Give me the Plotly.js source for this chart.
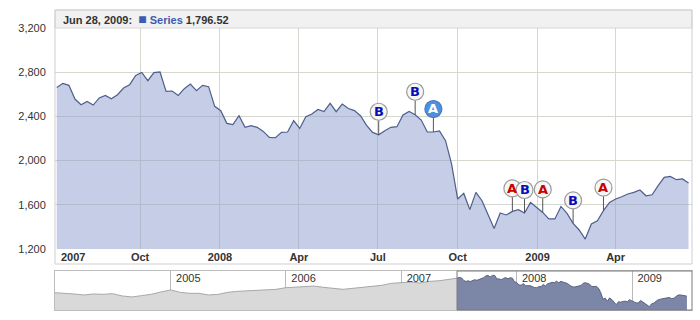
<!DOCTYPE html>
<html>
<head>
<meta charset="utf-8">
<script src="https://cdn.plot.ly/plotly-3.0.1.min.js"></script>
<style>html,body{margin:0;padding:0;background:#fff;}#chart{width:700px;height:320px;}</style>
</head>
<body>
<div id="chart"></div>
<script>
// ---- data ----
const seriesName = 'Series';
const hoverDate = 'Jun 28, 2009';
const firstWeek = '2007-06-27';   // weekly observations start
const weeklyValues = [
  2662,2699,2681,2557,2506,2536,2503,2567,2590,2560,
  2596,2657,2687,2771,2798,2723,2796,2802,2626,2630,
  2590,2651,2693,2633,2681,2669,2491,2452,2337,2325,
  2406,2301,2316,2301,2264,2210,2207,2255,2259,2361,
  2291,2397,2422,2463,2443,2518,2443,2512,2472,2452,
  2406,2319,2255,2234,2271,2301,2307,2413,2445,2415,
  2367,2259,2259,2268,2180,1969,1652,1703,1556,1712,
  1637,1510,1386,1526,1508,1540,1556,1526,1622,1576,
  1531,1472,1472,1585,1522,1432,1372,1290,1426,1456,
  1547,1622,1652,1673,1698,1712,1734,1682,1691,1773,
  1848,1857,1827,1834,1796.52
];
// monthly history shown only in the navigator (Jan 2004 .. Jun 2007)
const historyStartYear = 2004;
const historyValues = [
  1965,1950,1902,1854,1902,1886,1918,1806,1758,1822,1886,1998,
  2094,1982,1934,1934,1854,1886,1982,2030,2046,2078,2078,2126,
  2206,2238,2286,2286,2222,2158,2126,2174,2222,2270,2320,2416,
  2445,2478,2430,2510,2540,2600
];
// event flags: week index, letter, highlighted
const eventWeeks   = [53, 59, 62, 75, 77, 80, 85, 90];
const eventLetters = ['B','B','A','A','B','A','B','A'];
const eventActive  = [false,false,true,false,false,false,false,false];
// axis ticks
const mainTickVals = ['2007-10-01','2008-01-01','2008-04-01','2008-07-01','2008-10-01','2009-01-01','2009-04-01'];
const mainTickText = ['Oct','2008','Apr','Jul','Oct','2009','Apr'];
const firstYearLabel = '2007';
const yTickVals = [1200,1600,2000,2400,2800,3200];
const navTickVals = ['2005-01-01','2006-01-01','2007-01-01','2008-01-01','2009-01-01'];
const navTickText = ['2005','2006','2007','2008','2009'];

// ---- derived ----
function isoDay(d){ return d.toISOString().slice(0,10); }
const weekDates = weeklyValues.map((v,i)=>{
  const d = new Date(firstWeek + 'T00:00:00Z');
  d.setUTCDate(d.getUTCDate() + 7*i);
  return isoDay(d);
});
const historyDates = historyValues.map((v,i)=>{
  const d = new Date(Date.UTC(historyStartYear, i, 1));
  return isoDay(d);
});

const FONT = 'Liberation Sans, Arial, sans-serif';
const H = 320;
const py = p => (H - p) / H;   // pixel row -> paper y

const traces = [
  {
    x: weekDates, y: weeklyValues, type: 'scatter', mode: 'lines',
    line: {color: '#4e5e8c', width: 1.2},
    fill: 'tozeroy', fillcolor: 'rgba(139,157,205,0.5)',
    xaxis: 'x', yaxis: 'y', hoverinfo: 'skip'
  },
  {
    x: historyDates.concat([weekDates[0]]), y: historyValues.concat([weeklyValues[0]]),
    type: 'scatter', mode: 'lines',
    line: {color: '#a8a8a8', width: 1},
    fill: 'tozeroy', fillcolor: '#d9d9d9',
    xaxis: 'x2', yaxis: 'y2', hoverinfo: 'skip'
  },
  {
    x: weekDates, y: weeklyValues, type: 'scatter', mode: 'lines',
    line: {color: '#59627e', width: 1},
    fill: 'tozeroy', fillcolor: '#7c87a8',
    xaxis: 'x2', yaxis: 'y2', hoverinfo: 'skip'
  }
];

const shapes = [
  // frame around main chart incl. header and label band
  {type:'rect', xref:'paper', yref:'paper', x0:0, x1:1, y0:py(264), y1:py(10),
   line:{color:'#cfcfcf', width:1}, fillcolor:'rgba(0,0,0,0)', layer:'above'},
  // header bar
  {type:'rect', xref:'paper', yref:'paper', x0:0, x1:1, y0:py(28), y1:py(10),
   line:{color:'#d6d6d6', width:1}, fillcolor:'#f1f1f1', layer:'below'},
  // navigator selection frame
  {type:'rect', xref:'x2', yref:'y2 domain', x0:weekDates[0], x1:'2009-07-10', y0:0, y1:1,
   line:{color:'#7a7a7a', width:1}, fillcolor:'rgba(0,0,0,0)', layer:'above'}
];
const annotations = [
  {xref:'paper', yref:'paper', x:0, xshift:6, y:py(19), xanchor:'left', yanchor:'middle', showarrow:false,
   text:'<b>' + hoverDate + ':</b>  <span style="color:#3d5bb0;font-size:14px">■</span> <b><span style="color:#3d5bb0">' + seriesName + '</span> ' +
        weeklyValues[weeklyValues.length-1].toLocaleString('en-US',{minimumFractionDigits:2}) + '</b>',
   font:{family:FONT, size:11, color:'#333'}},
  {xref:'paper', yref:'paper', x:0, xshift:4, y:py(257), xanchor:'left', yanchor:'middle', showarrow:false,
   text:'<b>' + firstYearLabel + '</b>', font:{family:FONT, size:11, color:'#333'}}
];

eventWeeks.forEach((w,i)=>{
  const xd = weekDates[w], yv = weeklyValues[w];
  const act = eventActive[i];
  shapes.push({type:'line', xref:'x', yref:'y', xsizemode:'pixel', ysizemode:'pixel',
    xanchor:xd, yanchor:yv, x0:0, x1:0, y0:0, y1:14.5, line:{color:'#555', width:1}});
  shapes.push({type:'circle', xref:'x', yref:'y', xsizemode:'pixel', ysizemode:'pixel',
    xanchor:xd, yanchor:yv, x0:-8.5, x1:8.5, y0:14.5, y1:31.5,
    fillcolor: act ? '#4d8fe0' : '#f6f6f6', line:{color: act ? '#4a78c0' : '#9a9a9a', width:1.2}});
  annotations.push({xref:'x', yref:'y', x:xd, y:yv, yshift:23, showarrow:false,
    xanchor:'center', yanchor:'middle',
    text:'<b>' + eventLetters[i] + '</b>',
    font:{family:'DejaVu Sans, sans-serif', size:13,
          color: act ? '#ffffff' : (eventLetters[i]==='A' ? '#cc0000' : '#0a0ab8')}});
});

const layout = {
  width: 700, height: 320,
  margin: {l:55, r:8, t:0, b:0},
  paper_bgcolor: '#ffffff', plot_bgcolor: '#ffffff',
  showlegend: false,
  xaxis: {
    type:'date', domain:[0,1], anchor:'y', range:['2007-06-25','2009-06-28'],
    tickvals: mainTickVals, ticktext: mainTickText, ticks:'',
    showgrid:true, gridcolor:'#d4d8cf', gridwidth:1, zeroline:false, showline:false,
    tickfont:{family:FONT, size:11, color:'#333', weight:'bold'}, fixedrange:true
  },
  yaxis: {
    domain:[py(249), py(28)], anchor:'x', range:[1200,3200],
    tickvals: yTickVals, tickformat:',d', ticks:'outside', ticklen:6, tickcolor:'rgba(0,0,0,0)',
    showgrid:true, gridcolor:'#d4d8cf', gridwidth:1, zeroline:false, showline:false,
    tickfont:{family:FONT, size:11, color:'#333'}, fixedrange:true
  },
  xaxis2: {
    type:'date', domain:[0,1], anchor:'y2', range:['2004-01-01','2009-07-10'],
    side:'top', tickvals: navTickVals, ticktext: navTickText, ticks:'',
    ticklabelposition:'inside right', ticklabelshift:5,
    showgrid:true, gridcolor:'#b9b9b9', gridwidth:1, zeroline:false,
    showline:true, mirror:true, linecolor:'#bdbdbd', linewidth:1,
    tickfont:{family:FONT, size:11, color:'#333'}, fixedrange:true
  },
  yaxis2: {
    domain:[py(310), py(271)], anchor:'x2', range:[1130,3010],
    showticklabels:false, showgrid:false, zeroline:false, ticks:'',
    showline:true, mirror:true, linecolor:'#bdbdbd', linewidth:1, fixedrange:true
  },
  shapes: shapes,
  annotations: annotations
};

Plotly.newPlot('chart', traces, layout, {staticPlot:true, displayModeBar:false});
</script>
</body>
</html>
